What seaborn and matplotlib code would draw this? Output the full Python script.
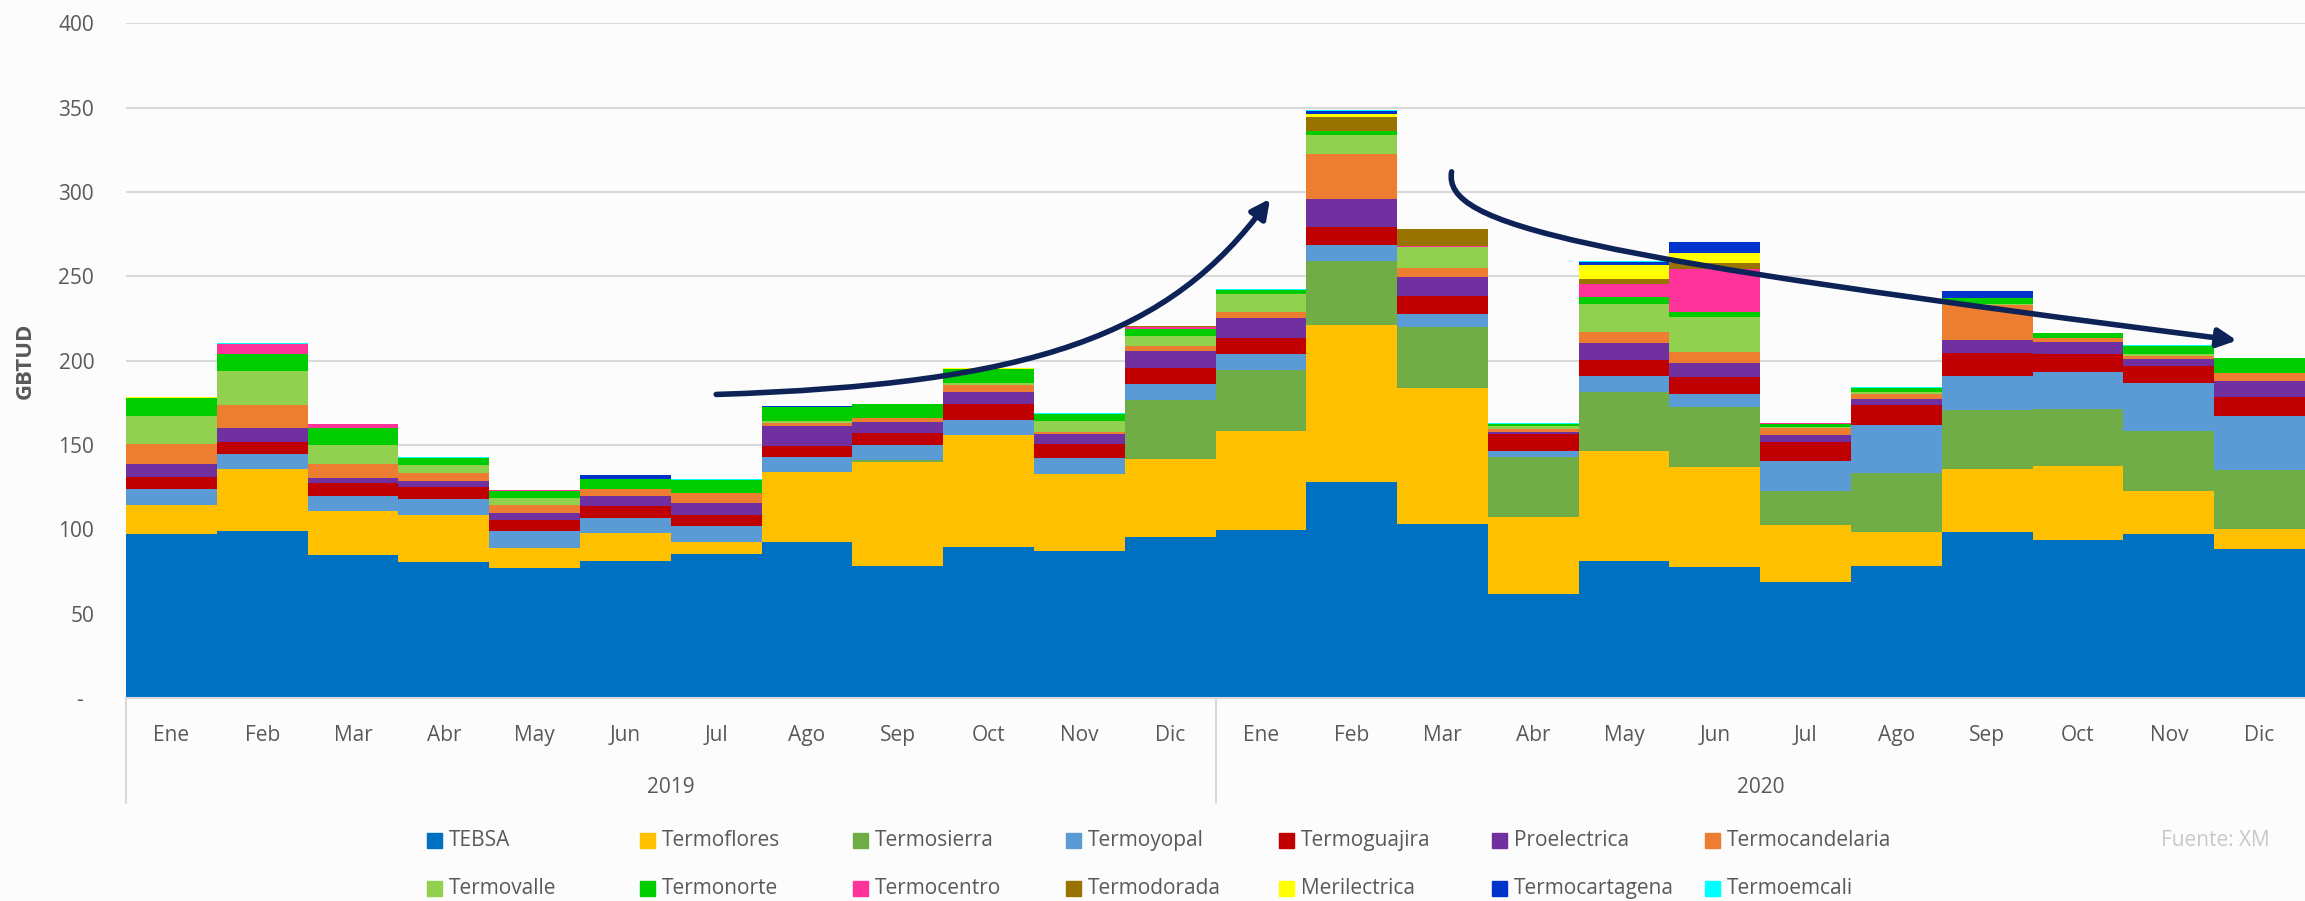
import numpy as np
import pandas as pd
import seaborn as sns
import matplotlib.pyplot as plt
from matplotlib.patches import FancyArrowPatch, Rectangle
from matplotlib.path import Path
from matplotlib.transforms import blended_transform_factory

# ==========================
# Data (GBTUD per month)
# ==========================

months = ["Ene", "Feb", "Mar", "Abr", "May", "Jun",
          "Jul", "Ago", "Sep", "Oct", "Nov", "Dic"]
years = ["2019", "2020"]

tebsa = [97, 98.8, 84.8, 80.9, 77.3, 81.2, 85.5, 92.5, 78.3, 89.3, 87, 95.7,
         99.5, 128, 103.1, 61.8, 81.2, 77.6, 68.8, 78.5, 98.6, 93.5, 97.2, 88.3]
termoflores = [17.4, 37.2, 26.1, 27.6, 11.8, 16.6, 7, 41.8, 61.9, 66.5, 45.7, 46.1,
               59, 93, 80.7, 45.7, 65.4, 59.2, 34, 20.1, 37.2, 43.9, 25.5, 11.9]
termosierra = [0, 0, 0, 0, 0, 0, 0, 0, 1, 0, 0, 34.7,
               35.9, 37.9, 36.2, 35.7, 35, 36, 19.7, 34.8, 34.8, 33.7, 35.4, 34.8]
termoyopal = [9.7, 8.5, 8.9, 9.6, 9.7, 9, 9.4, 8.9, 9.1, 9.1, 9.9, 9.5,
              9.6, 9.7, 7.8, 3.4, 9.2, 7.5, 18.2, 28.5, 20.3, 22, 28.5, 32.2]
termoguajira = [7, 7.2, 7.7, 7.3, 7, 7.2, 6.8, 6.1, 6.9, 9.3, 7.9, 9.5,
                9.7, 10.6, 10.8, 10.2, 9.9, 10.1, 10.9, 12, 13.8, 10.7, 10.4, 11.5]
proelectrica = [7.7, 8.5, 2.7, 3.1, 3.9, 5.8, 7.2, 11.8, 6.5, 7.3, 6.3, 10,
                11.6, 16.9, 11.2, 1.2, 9.7, 8.3, 4.1, 3.4, 7.6, 7.5, 3.8, 9.2]
termocandelaria = [11.6, 13.5, 8.4, 4.8, 4.8, 3.9, 5.4, 1.8, 2.4, 3.9, 1, 3.4,
                   3.4, 26.4, 5.3, 1.4, 6.5, 6.7, 4.2, 3.1, 20.5, 2.1, 2.2, 4.6]
termovalle = [17.1, 20.3, 11.2, 4.6, 3.9, 0, 0, 1.6, 0, 1.2, 6.7, 5.9,
              10.6, 11.1, 12.5, 1.7, 16.9, 20.8, 0.6, 0.8, 0.8, 0, 0.9, 0]
termonorte = [10.4, 10.1, 10.3, 4.6, 4.1, 6.3, 7.9, 8.1, 8.1, 8.3, 3.9, 4.1,
              2.8, 2.7, 0, 1.5, 4.1, 2.4, 1.8, 2.6, 3.4, 3.2, 4.8, 9.3]
termocentro = [0, 5.6, 2.2, 0, 0.7, 0, 0, 0, 0, 0, 0, 1.2,
               0, 0, 0.5, 0, 7.5, 25.6, 0.6, 0, 0, 0, 0, 0]
termodorada = [0, 0, 0, 0, 0, 0, 0, 0, 0, 0, 0, 0.6,
               0, 8.4, 10, 0, 3.2, 3.6, 0, 0, 0, 0, 0, 0]
merilectrica = [0.5, 0, 0.4, 0, 0, 0, 0, 0, 0, 0.6, 0, 0,
                0, 1.4, 0, 0, 7.9, 6.3, 0, 0, 0, 0, 0, 0]
termocartagena = [0, 0, 0, 0, 0, 2.4, 0, 0.6, 0, 0, 0, 0,
                  0, 2, 0, 0, 2, 6.5, 0, 0, 4.3, 0, 0, 0]
termoemcali = [0, 0.7, 0, 0.7, 0, 0, 0.7, 0, 0.4, 0, 0.8, 0,
               0.4, 0.3, 0, 0.3, 0.7, 0, 0, 0.7, 0, 0, 0.8, 0]

names = ["TEBSA", "Termoflores", "Termosierra", "Termoyopal", "Termoguajira",
         "Proelectrica", "Termocandelaria", "Termovalle", "Termonorte",
         "Termocentro", "Termodorada", "Merilectrica", "Termocartagena",
         "Termoemcali"]
series = [tebsa, termoflores, termosierra, termoyopal, termoguajira,
          proelectrica, termocandelaria, termovalle, termonorte,
          termocentro, termodorada, merilectrica, termocartagena, termoemcali]
colors = ["#0070C0", "#FFC000", "#70AD47", "#5B9BD5", "#C00000", "#7030A0",
          "#ED7D31", "#92D050", "#00CC00", "#FF3399", "#997300", "#FFFF00",
          "#0033CC", "#00FFFF"]

# ==========================
# Style
# ==========================

sns.set_style("white")
plt.rcParams["font.family"] = ["Open Sans", "DejaVu Sans"]
text_gray = "#595959"
grid_gray = "#d9d9d9"

fig = plt.figure(figsize=(23.05, 9.01), dpi=100, facecolor="#fcfcfc")
ax = fig.add_axes([0.0547, 0.2253, 0.9453, 0.7487])
ax.set_facecolor("#fcfcfc")

# ==========================
# Stacked bars (cumulative, drawn top series first)
# ==========================

n = len(tebsa)
df = pd.DataFrame({"pos": np.arange(n)})
cum = np.zeros(n)
for name, vals in zip(names, series):
    cum = cum + np.array(vals)
    df[name] = cum

for name, col in reversed(list(zip(names, colors))):
    sns.barplot(data=df, x="pos", y=name, color=col, width=1.0,
                saturation=1, errorbar=None, linewidth=0, ax=ax, zorder=2)

ax.set_xlim(-0.5, n - 0.5)
ax.set_ylim(0, 400)
ax.set_xlabel("")
ax.set_ylabel("GBTUD", fontsize=16, fontweight="bold", color=text_gray, labelpad=16)

yt = np.arange(0, 401, 50)
ax.set_yticks(yt)
ax.set_yticklabels(["-  "] + [str(v) for v in yt[1:]], fontsize=15, color=text_gray)
ax.tick_params(axis="y", length=0, pad=23)
ax.yaxis.grid(True, color=grid_gray, linewidth=1.5, zorder=0)
ax.set_axisbelow(True)

ax.set_xticks([])
for s in ["top", "right", "left"]:
    ax.spines[s].set_visible(False)
ax.spines["bottom"].set_color(grid_gray)
ax.spines["bottom"].set_linewidth(1.5)

# two-level category axis
trans = blended_transform_factory(ax.transData, ax.transAxes)
for i in range(n):
    ax.text(i, -0.055, months[i % 12], transform=trans, ha="center", va="center",
            fontsize=15, color=text_gray)
for j, yr in enumerate(years):
    ax.text(j * 12 + 5.5, -0.132, yr, transform=trans, ha="center", va="center",
            fontsize=15, color=text_gray)
for xb in [-0.5, 11.5]:
    ax.plot([xb, xb], [0, -0.156], transform=trans, color=grid_gray,
            linewidth=1.5, clip_on=False)

# ==========================
# Trend arrows (cubic curves)
# ==========================

arrow_col = "#0d2357"
curve = [Path.MOVETO, Path.CURVE4, Path.CURVE4, Path.CURVE4]
up_path = Path([(6.0, 180), (9.5, 186), (11.0, 215), (12.1, 296)], curve)
down_path = Path([(14.1, 312), (14.0, 280), (15.5, 262), (22.75, 212)], curve)
for p in [up_path, down_path]:
    arr = FancyArrowPatch(path=p, arrowstyle="-|>", mutation_scale=28,
                          linewidth=4, color=arrow_col, zorder=5)
    ax.add_patch(arr)

# ==========================
# Legend (7 columns x 2 rows)
# ==========================

for i, (name, col) in enumerate(zip(names, colors)):
    c, r = i % 7, i // 7
    x0 = 0.1851 + c * 0.0924
    y0 = 0.0670 - r * 0.0533
    fig.patches.append(Rectangle((x0, y0 - 0.008), 0.0065, 0.016,
                                 transform=fig.transFigure, color=col))
    fig.text(x0 + 0.0098, y0, name, ha="left", va="center",
             fontsize=15, color=text_gray)

fig.text(0.9375, 0.0670, "Fuente: XM", ha="left", va="center",
         fontsize=15, color="#c8c8c8")

fig.savefig("out.png", dpi=100, facecolor=fig.get_facecolor())
plt.close()
